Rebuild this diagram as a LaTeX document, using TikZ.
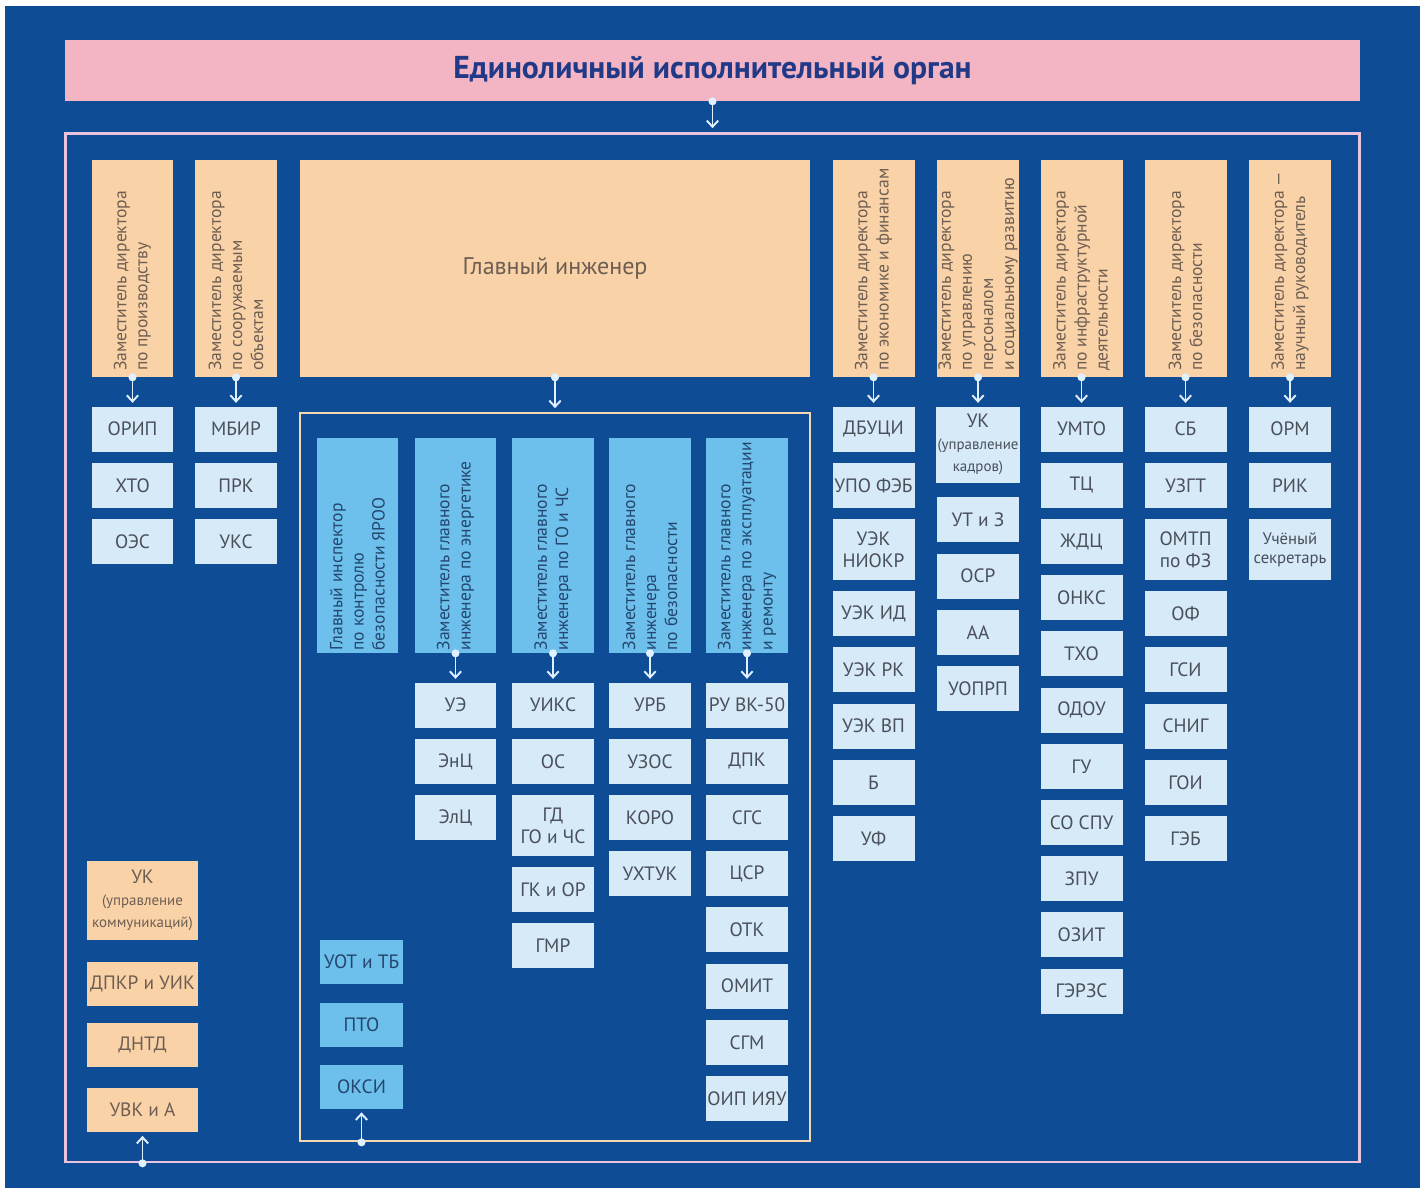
\documentclass[tikz,border=0pt]{standalone}
\usepackage{fontspec}
\usepackage{graphicx}
\setmainfont{PT Sans}
\usetikzlibrary{positioning,arrows.meta}

\definecolor{bgblue}{RGB}{14,76,150}
\definecolor{titlepink}{RGB}{243,180,195}
\definecolor{titletext}{RGB}{33,58,135}
\definecolor{framepink}{RGB}{235,195,222}
\definecolor{framecream}{RGB}{243,217,177}
\definecolor{peach}{RGB}{249,210,168}
\definecolor{peachtext}{RGB}{110,94,82}
\definecolor{lightbox}{RGB}{214,234,248}
\definecolor{lighttext}{RGB}{74,79,90}
\definecolor{midblue}{RGB}{108,192,235}
\definecolor{midtext}{RGB}{36,70,110}
\definecolor{linkcol}{RGB}{224,240,255}

% vertical captions of the deputy boxes
\newcommand{\uptext}[2][4.1cm]{\rotatebox{90}{\parbox{#1}{\raggedright #2}}}
\newcommand{\smalltxt}{\fontsize{8.5}{10}\selectfont}

\begin{document}
\begin{tikzpicture}[
    x=0.02cm, y=-0.02cm,
    node distance = 0.21cm,
    titlebar/.style={rectangle, fill=titlepink, text=titletext, minimum width=25.9cm, minimum height=1.22cm, font=\fontsize{18}{21}\selectfont\bfseries},
    outerframe/.style={rectangle, draw=framepink, line width=1.6pt, minimum width=25.9cm, minimum height=20.58cm},
    ceframe/.style={rectangle, draw=framecream, line width=1.6pt, minimum width=10.2cm, minimum height=14.56cm},
    dirbox/.style={rectangle, fill=peach, text=peachtext, minimum width=1.64cm, minimum height=4.34cm, inner sep=0pt, font=\fontsize{10}{12}\selectfont},
    chiefbox/.style={rectangle, fill=peach, text=peachtext, minimum width=10.2cm, minimum height=4.34cm, font=\fontsize{13.7}{16}\selectfont},
    engbox/.style={rectangle, fill=midblue, text=midtext, minimum width=1.64cm, minimum height=4.3cm, inner sep=0pt, font=\fontsize{10}{12}\selectfont},
    unit/.style={rectangle, fill=lightbox, text=lighttext, minimum width=1.64cm, minimum height=0.9cm, inner sep=1pt, align=center, font=\fontsize{11}{12.5}\selectfont},
    tall/.style={minimum height=1.22cm},
    engunit/.style={unit, fill=midblue, text=midtext, minimum width=1.66cm, minimum height=0.88cm},
    sidebox/.style={unit, fill=peach, text=peachtext, minimum width=2.22cm, minimum height=0.88cm},
    link/.style={draw=linkcol, line width=1.1pt, {Circle[length=4.5pt]}-{Straight Barb[length=3.5pt,width=6.5pt]}, shorten <=-2.25pt, shorten >=2pt},
  ]
  % page and background
  \fill[white] (0,0) rectangle (1427,1191);
  \fill[bgblue] (5,6) rectangle (1420,1188);

  \node[titlebar] (eio) at (712.5,70.5) {Единоличный исполнительный орган};
  \node[outerframe] (org) at (712.5,647.5) {};
  \node[ceframe] (cegroup) at (555,777) {};

  % directors' deputies
  \node[dirbox] (dprod) at (132.5,268.5) {\uptext{Заместитель директора\\по производству}};
  \node[dirbox] (dobj) at (236,268.5) {\uptext{Заместитель директора\\по сооружаемым\\объектам}};
  \node[chiefbox] (chief) at (555,268.5) {Главный инженер};
  \node[dirbox] (decon) at (873.5,268.5) {\uptext{Заместитель директора\\по экономике и финансам}};
  \node[dirbox] (dhr) at (978,268.5) {\uptext{Заместитель директора\\по управлению\\персоналом\\и социальному развитию}};
  \node[dirbox] (dinfra) at (1081.5,268.5) {\uptext{Заместитель директора\\по инфраструктурной\\деятельности}};
  \node[dirbox] (dsec) at (1185.5,268.5) {\uptext{Заместитель директора\\по безопасности}};
  \node[dirbox] (dsci) at (1290,268.5) {\uptext{Заместитель директора —\\научный руководитель}};

  % chief engineer's deputies
  \node[engbox] (insp) at (357.5,545.5) {\uptext[4.2cm]{Главный инспектор\\по контролю\\безопасности ЯРОО}};
  \node[engbox] (enrg) at (455.5,545.5) {\uptext[4.2cm]{Заместитель главного\\инженера по энергетике}};
  \node[engbox] (gochs) at (553,545.5) {\uptext[4.2cm]{Заместитель главного\\инженера по ГО и ЧС}};
  \node[engbox] (esafe) at (650,545.5) {\uptext[4.2cm]{Заместитель главного\\инженера\\по безопасности}};
  \node[engbox] (expl) at (747,545.5) {\uptext[4.2cm]{Заместитель главного\\инженера по эксплуатации\\и ремонту}};

  % units
  \node[unit, below=0.58cm of dprod] (orip) {ОРИП};
  \node[unit, below=of orip] (hto) {ХТО};
  \node[unit, below=of hto] (oes) {ОЭС};

  \node[unit, below=0.58cm of dobj] (mbir) {МБИР};
  \node[unit, below=of mbir] (prk) {ПРК};
  \node[unit, below=of prk] (uks) {УКС};

  \node[unit, below=0.58cm of decon] (dbuci) {ДБУЦИ};
  \node[unit, below=of dbuci] (upo) {УПО ФЭБ};
  \node[unit, tall, below=of upo] (niokr) {УЭК\\НИОКР};
  \node[unit, below=of niokr] (uekid) {УЭК ИД};
  \node[unit, below=of uekid] (uekrk) {УЭК РК};
  \node[unit, below=of uekrk] (uekvp) {УЭК ВП};
  \node[unit, below=of uekvp] (buh) {Б};
  \node[unit, below=of buh] (uf) {УФ};

  \node[unit, minimum height=1.52cm, below=0.58cm of dhr] (ukkadr) {УК\\\smalltxt(управление\\\smalltxt кадров)};
  \node[unit, below=0.28cm of ukkadr] (utz) {УТ и З};
  \node[unit, below=of utz] (osr) {ОСР};
  \node[unit, below=of osr] (aa) {АА};
  \node[unit, below=of aa] (uoprp) {УОПРП};

  \node[unit, below=0.58cm of dinfra] (umto) {УМТО};
  \node[unit, below=of umto] (tc) {ТЦ};
  \node[unit, below=of tc] (zhdc) {ЖДЦ};
  \node[unit, below=of zhdc] (onks) {ОНКС};
  \node[unit, below=of onks] (tho) {ТХО};
  \node[unit, below=of tho] (odou) {ОДОУ};
  \node[unit, below=of odou] (gu) {ГУ};
  \node[unit, below=of gu] (sospu) {СО СПУ};
  \node[unit, below=of sospu] (zpu) {ЗПУ};
  \node[unit, below=of zpu] (ozit) {ОЗИТ};
  \node[unit, below=of ozit] (gerzs) {ГЭРЗС};

  \node[unit, below=0.58cm of dsec] (sb) {СБ};
  \node[unit, below=of sb] (uzgt) {УЗГТ};
  \node[unit, tall, below=of uzgt] (omtp) {ОМТП\\по ФЗ};
  \node[unit, below=of omtp] (of) {ОФ};
  \node[unit, below=of of] (gsi) {ГСИ};
  \node[unit, below=of gsi] (snig) {СНИГ};
  \node[unit, below=of snig] (goi) {ГОИ};
  \node[unit, below=of goi] (geb) {ГЭБ};

  \node[unit, below=0.58cm of dsci] (orm) {ОРМ};
  \node[unit, below=of orm] (rik) {РИК};
  \node[unit, tall, below=of rik, font=\fontsize{9.5}{11}\selectfont] (usek) {Учёный\\секретарь};

  \node[unit, below=0.58cm of enrg] (ue) {УЭ};
  \node[unit, below=of ue] (enc) {ЭнЦ};
  \node[unit, below=of enc] (elc) {ЭлЦ};

  \node[unit, below=0.58cm of gochs] (uiks) {УИКС};
  \node[unit, below=of uiks] (os) {ОС};
  \node[unit, tall, below=of os] (gd) {ГД\\ГО и ЧС};
  \node[unit, below=of gd] (gkor) {ГК и ОР};
  \node[unit, below=of gkor] (gmr) {ГМР};

  \node[unit, below=0.58cm of esafe] (urb) {УРБ};
  \node[unit, below=of urb] (uzos) {УЗОС};
  \node[unit, below=of uzos] (koro) {КОРО};
  \node[unit, below=of koro] (uhtuk) {УХТУК};

  \node[unit, below=0.58cm of expl] (ruvk) {РУ ВК-50};
  \node[unit, below=of ruvk] (dpk) {ДПК};
  \node[unit, below=of dpk] (sgs) {СГС};
  \node[unit, below=of sgs] (csr) {ЦСР};
  \node[unit, below=of csr] (otk) {ОТК};
  \node[unit, below=of otk] (omit) {ОМИТ};
  \node[unit, below=of omit] (sgm) {СГМ};
  \node[unit, below=of sgm] (oip) {ОИП ИЯУ};

  % units reporting to the director directly
  \node[sidebox] (uvk) at (142.5,1110) {УВК и А};
  \node[sidebox, above=0.4cm of uvk] (dntd) {ДНТД};
  \node[sidebox, above=0.34cm of dntd] (dpkr) {ДПКР и УИК};
  \node[sidebox, minimum height=1.58cm, above=0.42cm of dpkr] (ukcom) {УК\\\smalltxt(управление\\\smalltxt коммуникаций)};

  % units reporting to the chief engineer directly
  \node[engunit] (oksi) at (361.5,1086.5) {ОКСИ};
  \node[engunit, above=0.34cm of oksi] (pto) {ПТО};
  \node[engunit, above=0.36cm of pto] (uot) {УОТ и ТБ};

  % links
  \draw[link] (eio.south) -- (eio.south |- org.north);
  \draw[link] (chief.south) -- (cegroup.north);
  \foreach \a/\b in {dprod/orip, dobj/mbir, decon/dbuci, dhr/ukkadr, dinfra/umto, dsec/sb, dsci/orm,
                     enrg/ue, gochs/uiks, esafe/urb, expl/ruvk}
    \draw[link] (\a.south) -- (\b.north);
  \draw[link] (org.south -| uvk.south) -- (uvk.south);
  \draw[link] (cegroup.south -| oksi.south) -- (oksi.south);
\end{tikzpicture}
\end{document}
